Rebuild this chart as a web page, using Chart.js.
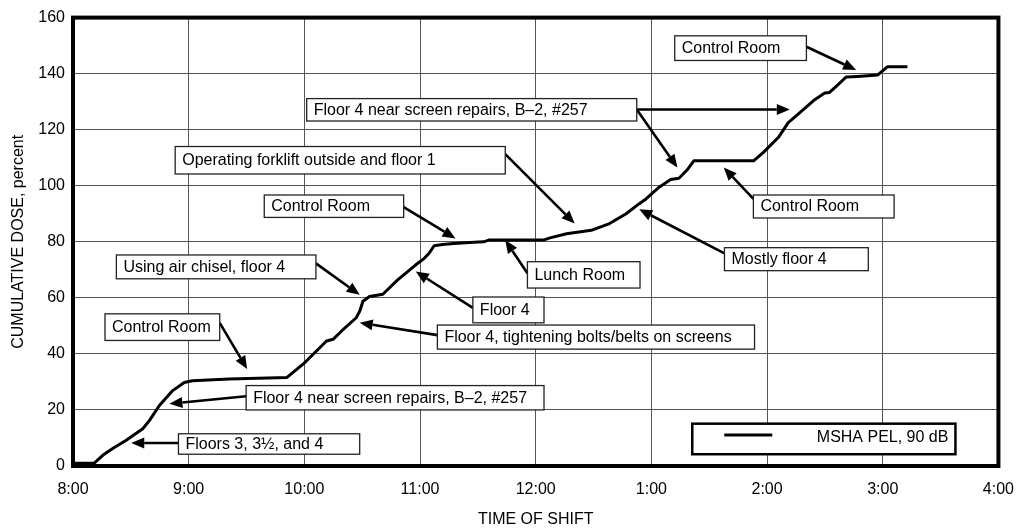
<!DOCTYPE html>
<html><head><meta charset="utf-8">
<script src="https://cdn.jsdelivr.net/npm/chart.js@4/dist/chart.umd.min.js"></script>
<style>html,body{margin:0;padding:0;background:#fff;}#wrap{width:1028px;height:531px;}</style>
</head><body><div id="wrap"><canvas id="c" width="1028" height="531"></canvas></div>
<script>
// Minutes elapsed since 8:00 and cumulative dose (%)
const shiftMinutes = [0, 11, 15.6, 20.8, 27.6, 36.2, 39.7, 44.8, 51.7, 57.7, 62, 81, 111, 120.4, 125.5, 131.5, 134.9, 139.2, 146.9, 148.7, 150.4, 153.8, 160.7, 168.4, 177.8, 182.2, 184.7, 187.3, 191.6, 197.6, 207.9, 213, 215.6, 244, 247.4, 256, 268.8, 278.3, 286.9, 293.7, 297.2, 304, 310, 314.3, 318.6, 322, 353, 358.1, 365.8, 371, 377.9, 384.7, 389.9, 392.4, 396.7, 401, 407, 417.3, 422.5, 432.8];
const cumulativeDose = [1, 1, 3.9, 6.3, 9.2, 13.3, 16.3, 21.6, 26.9, 29.8, 30.4, 31, 31.6, 37, 40.5, 44.6, 45.2, 48.1, 52.9, 55.2, 58.8, 60.5, 61.3, 66.4, 71.8, 74.1, 75.9, 78.6, 79, 79.4, 79.8, 80, 80.6, 80.6, 81.4, 82.9, 84.1, 86.5, 90, 93.6, 95.3, 99.5, 102.2, 102.7, 105.7, 108.9, 108.9, 111.9, 117.2, 122.5, 126.6, 130.7, 133.1, 133.3, 136, 138.8, 139, 139.5, 142.5, 142.5];
const timeTickLabels = ['8:00','9:00','10:00','11:00','12:00','1:00','2:00','3:00','4:00'];
const seriesLabel = 'MSHA PEL, 90 dB';
const xTitle = 'TIME OF SHIFT';
const yTitle = 'CUMULATIVE DOSE, percent';

// Callout notes (box corners and arrow ends in data units: minutes, percent)
const notes = [
  {text:'Control Room', box:[312.1,153.5,380.4,144.7], from:[380.4,149.6], to:[[406.2,141.3]]},
  {text:'Floor 4 near screen repairs, B\u20132, #257', box:[121.2,131.1,292.4,123.1], from:[292.4,127.2], to:[[371.8,127.2],[313.5,106.5]]},
  {text:'Operating forklift outside and floor 1', box:[53.0,114.0,224.2,104.2], from:[224.2,111.3], to:[[260.2,86.5]]},
  {text:'Control Room', box:[99.2,96.7,171.5,88.7], from:[171.5,92.4], to:[[198.4,81.2]]},
  {text:'Using air chisel, floor 4', box:[22.5,75.3,126.0,66.8], from:[126.0,72.3], to:[[148.7,61.1]]},
  {text:'Control Room', box:[16.6,54.3,76.1,44.8], from:[76.1,51.1], to:[[90.3,34.6]]},
  {text:'Floor 4 near screen repairs, B\u20132, #257', box:[89.8,28.7,244.3,20.0], from:[89.8,24.9], to:[[50.0,22.2]]},
  {text:'Floors 3, 3\u00BD, and 4', box:[54.7,11.5,148.7,4.2], from:[54.7,8.2], to:[[30.2,8.2]]},
  {text:'Floor 4, tightening bolts/belts on screens', box:[189.0,50.3,353.5,41.7], from:[189.0,46.7], to:[[148.7,51.1]]},
  {text:'Floor 4', box:[207.4,60.3,244.3,51.1], from:[207.4,56.4], to:[[177.8,69.4]]},
  {text:'Lunch Room', box:[235.7,72.9,294.1,63.5], from:[235.7,68.8], to:[[224.2,80.6]]},
  {text:'Control Room', box:[352.9,96.7,425.9,88.5], from:[352.9,95.3], to:[[337.5,106.5]]},
  {text:'Mostly floor 4', box:[337.9,77.9,412.5,69.7], from:[337.9,75.9], to:[[293.7,91.6]]}
];
const legendBox = [321.2,15.1,457.7,4.2];

const FONT = '"Liberation Sans", Arial, Helvetica, sans-serif';
Chart.defaults.font.family = FONT;
Chart.defaults.font.size = 16;
Chart.defaults.color = '#000';

function drawArrow(ctx, x1, y1, x2, y2){
  const a = Math.atan2(y2-y1, x2-x1), L = 13, W = 5.5;
  const bx = x2 - L*Math.cos(a), by = y2 - L*Math.sin(a);
  ctx.beginPath(); ctx.moveTo(x1,y1); ctx.lineTo(bx,by); ctx.lineWidth = 2.6; ctx.stroke();
  ctx.beginPath(); ctx.moveTo(x2,y2);
  ctx.lineTo(bx - W*Math.sin(a), by + W*Math.cos(a));
  ctx.lineTo(bx + W*Math.sin(a), by - W*Math.cos(a));
  ctx.closePath(); ctx.fill();
}

const calloutPlugin = {
  id:'callouts',
  afterDatasetsDraw(chart){
    const {ctx, chartArea:ca, scales:{x, y}} = chart;
    ctx.save();
    // frame
    ctx.strokeStyle = '#000'; ctx.lineWidth = 4;
    ctx.strokeRect(ca.left, ca.top, ca.right-ca.left, ca.bottom-ca.top);
    // arrows
    ctx.fillStyle = '#000'; ctx.strokeStyle = '#000'; ctx.lineCap = 'butt';
    notes.forEach(n => {
      const fx = x.getPixelForValue(n.from[0]), fy = y.getPixelForValue(n.from[1]);
      n.to.forEach(t => drawArrow(ctx, fx, fy, x.getPixelForValue(t[0]), y.getPixelForValue(t[1])));
    });
    // boxes
    ctx.font = '16px ' + FONT; ctx.textBaseline = 'middle'; ctx.textAlign = 'left';
    notes.forEach(n => {
      const x0 = x.getPixelForValue(n.box[0]), y0 = y.getPixelForValue(n.box[1]);
      const x1 = x.getPixelForValue(n.box[2]), y1 = y.getPixelForValue(n.box[3]);
      ctx.fillStyle = '#fff'; ctx.fillRect(x0, y0, x1-x0, y1-y0);
      ctx.strokeStyle = '#222'; ctx.lineWidth = 1.3; ctx.strokeRect(x0, y0, x1-x0, y1-y0);
      ctx.fillStyle = '#000'; ctx.fillText(n.text, x0 + 7, (y0+y1)/2 + 0.5);
    });
    // legend
    const lx0 = x.getPixelForValue(legendBox[0]), ly0 = y.getPixelForValue(legendBox[1]);
    const lx1 = x.getPixelForValue(legendBox[2]), ly1 = y.getPixelForValue(legendBox[3]);
    ctx.fillStyle = '#fff'; ctx.fillRect(lx0, ly0, lx1-lx0, ly1-ly0);
    ctx.strokeStyle = '#000'; ctx.lineWidth = 2.5; ctx.strokeRect(lx0, ly0, lx1-lx0, ly1-ly0);
    const ds = chart.data.datasets[0];
    ctx.beginPath(); ctx.moveTo(lx0 + 32, (ly0+ly1)/2 - 4); ctx.lineTo(lx0 + 80, (ly0+ly1)/2 - 4);
    ctx.strokeStyle = ds.borderColor; ctx.lineWidth = ds.borderWidth; ctx.stroke();
    ctx.fillStyle = '#000'; ctx.textAlign = 'right';
    ctx.fillText(ds.label, lx1 - 7, (ly0+ly1)/2 - 1);
    ctx.restore();
  }
};

const gridColor = '#555';
new Chart(document.getElementById('c'), {
  type:'line',
  data:{datasets:[{
    label: seriesLabel,
    data: shiftMinutes.map((m,i) => ({x:m, y:cumulativeDose[i]})),
    borderColor:'#000', borderWidth:3, pointRadius:0, tension:0, fill:false, borderJoinStyle:'round'
  }]},
  options:{
    responsive:false, animation:false,
    layout:{padding:{top:14, right:23, left:0, bottom:0}},
    plugins:{legend:{display:false}, tooltip:{enabled:false}},
    scales:{
      x:{type:'linear', min:0, max:480,
         ticks:{stepSize:60, autoSkip:false, maxRotation:0, padding:14,
                callback:(v) => timeTickLabels[Math.round(v/60)]},
         grid:{color:gridColor, lineWidth:1, drawTicks:false},
         border:{display:false},
         title:{display:true, text:xTitle, padding:{top:0, bottom:2}},
         afterFit(s){ s.height = 65; }},
      y:{min:0, max:160,
         ticks:{stepSize:20, padding:8},
         grid:{color:gridColor, lineWidth:1, drawTicks:false},
         border:{display:false},
         title:{display:true, text:yTitle, padding:{top:9, bottom:0}},
         afterFit(s){ s.width = 73; }}
    }
  },
  plugins:[calloutPlugin]
});
</script></body></html>
